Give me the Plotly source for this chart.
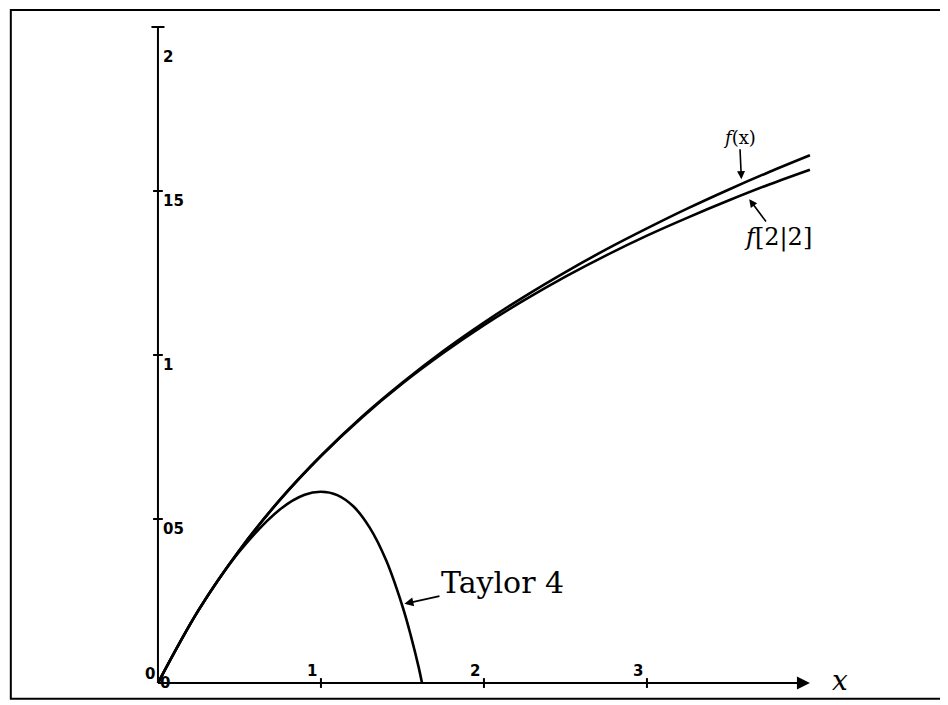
import plotly.graph_objects as go

# values
x_f = [0, 0.25, 0.5, 0.75, 1.0, 1.25, 1.5, 1.75, 2.0, 2.25, 2.5, 2.75, 3.0, 3.25, 3.5, 3.75, 4.0]
y_f = [0, 0.223, 0.405, 0.560, 0.693, 0.811, 0.916, 1.012, 1.099, 1.179, 1.253, 1.322, 1.386,
       1.447, 1.504, 1.558, 1.609]
y_pade = [0, 0.223, 0.405, 0.559, 0.692, 0.809, 0.913, 1.006, 1.091, 1.168, 1.239, 1.304, 1.364,
          1.419, 1.471, 1.520, 1.565]

x_taylor = [0, 0.25, 0.5, 0.75, 0.9, 1.0, 1.1, 1.2, 1.3, 1.4, 1.5, 1.55, 1.6, 1.62]
y_taylor = [0, 0.223, 0.401, 0.530, 0.574, 0.583, 0.573, 0.538, 0.473, 0.374, 0.234, 0.147, 0.047, 0.0]

y_ticks = [0.5, 1, 1.5, 2]
y_tick_labels = ["05", "1", "15", "2"]
x_ticks = [1, 2, 3]
x_tick_labels = ["1", "2", "3"]

fig = go.Figure()
line = dict(color="black", width=2.6)
fig.add_trace(go.Scatter(x=x_f, y=y_f, mode="lines", line=dict(line, shape="spline")))
fig.add_trace(go.Scatter(x=x_f, y=y_pade, mode="lines", line=dict(line, shape="spline")))
fig.add_trace(go.Scatter(x=x_taylor, y=y_taylor, mode="lines", line=dict(line, shape="spline")))

shapes = []
# frame round the whole sheet
shapes.append(dict(type="rect", xref="paper", yref="paper", x0=0.003, x1=0.997, y0=0.009, y1=0.997,
                   line=dict(color="black", width=2)))
# hand drawn axes
shapes.append(dict(type="line", x0=0, x1=0, y0=0, y1=2, line=dict(color="black", width=2)))
shapes.append(dict(type="line", x0=0, x1=3.98, y0=0, y1=0, line=dict(color="black", width=2)))
for t in y_ticks:
    w = 0.04 if t == 2 else 0.03
    shapes.append(dict(type="line", x0=-w, x1=w, y0=t, y1=t, line=dict(color="black", width=2)))
for t in x_ticks:
    shapes.append(dict(type="line", x0=t, x1=t, y0=-0.015, y1=0.015, line=dict(color="black", width=2)))

ann = []
tick_font = dict(family="DejaVu Sans", size=15, color="black")
for t, lab in zip(y_ticks, y_tick_labels):
    ann.append(dict(x=0.02, y=t, text="<b>" + lab + "</b>", showarrow=False, xanchor="left",
                    yanchor="middle", yshift=-30 if t == 2 else -10, font=tick_font))
for t, lab in zip(x_ticks, x_tick_labels):
    ann.append(dict(x=t, y=0, text="<b>" + lab + "</b>", showarrow=False, xanchor="right",
                    yanchor="bottom", xshift=-2, yshift=1, font=tick_font))
ann.append(dict(x=0, y=0, text="<b>0</b>", showarrow=False, xanchor="right", yanchor="bottom",
                xshift=-1, yshift=-2, font=tick_font))
ann.append(dict(x=0, y=0, text="<b>0</b>", showarrow=False, xanchor="left", yanchor="middle",
                xshift=0, font=tick_font))

hand = dict(family="DejaVu Serif", color="black")
# x-axis arrow and label
ann.append(dict(x=4.0, y=0, ax=3.85, ay=0, axref="x", ayref="y", xref="x", yref="y", text="",
                showarrow=True, arrowhead=2, arrowsize=1.3, arrowwidth=2, arrowcolor="black"))
ann.append(dict(x=4.12, y=0, text="<i>x</i>", showarrow=False, xanchor="left", yanchor="middle",
                yshift=3, font=dict(hand, size=28)))
# curve labels
ann.append(dict(x=1.5, y=0.24, ax=100, ay=-22, text="Taylor 4", showarrow=True, arrowhead=2,
                arrowsize=1, arrowwidth=1.8, arrowcolor="black", standoff=2,
                font=dict(hand, size=30)))
ann.append(dict(x=3.58, y=1.53, ax=-2, ay=-44, text="<i>f</i>(x)", showarrow=True, arrowhead=2,
                arrowsize=1, arrowwidth=1.6, arrowcolor="black", standoff=2,
                font=dict(hand, size=18)))
ann.append(dict(x=3.62, y=1.48, ax=30, ay=40, text="<i>f</i>[2|2]", showarrow=True, arrowhead=2,
                arrowsize=1, arrowwidth=1.6, arrowcolor="black", standoff=2,
                font=dict(hand, size=24)))

# the page adds an 8px body margin, so the figure is sized to what is left of the window
fig.update_layout(
    width=940, height=697,
    margin=dict(l=0, r=0, t=0, b=0),
    paper_bgcolor="white", plot_bgcolor="white",
    showlegend=False,
    shapes=shapes, annotations=ann,
    xaxis=dict(range=[-0.920, 4.847], visible=False),
    yaxis=dict(range=[-0.067, 2.058], visible=False),
)

fig.write_html("out.html")
